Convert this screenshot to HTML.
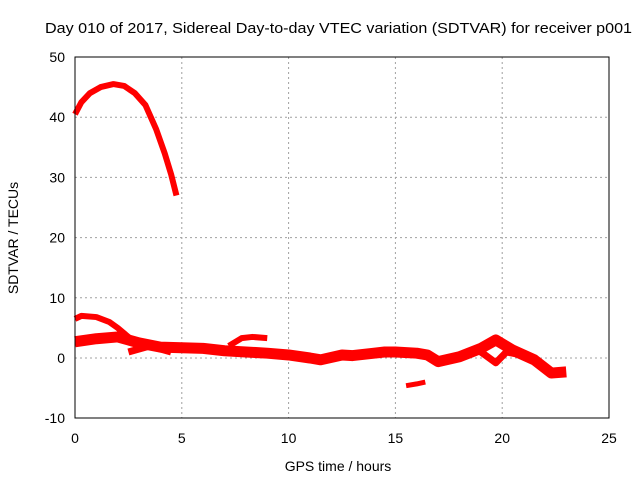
<!DOCTYPE html>
<html><head><meta charset="utf-8"><style>
body{margin:0;background:#fff}
svg text{font-family:"Liberation Sans",sans-serif;font-size:14px;fill:#000}
</style></head><body>
<svg width="640" height="480" id="c">
<rect x="0" y="0" width="640" height="480" fill="#fff"/>
<text x="45" y="33" textLength="587" lengthAdjust="spacingAndGlyphs" style="font-size:15px">Day 010 of 2017, Sidereal Day-to-day VTEC variation (SDTVAR) for receiver p001</text>
<text x="338" y="471" text-anchor="middle">GPS time / hours</text>
<text transform="translate(18,238) rotate(-90)" text-anchor="middle">SDTVAR / TECUs</text>
<g id="grid"></g><g id="marks"></g>
<rect x="75" y="57" width="534" height="361" fill="none" stroke="#000" stroke-width="1"/>
</svg>
<script>
const xTicks=[0,5,10,15,20,25];
const yTicks=[-10,0,10,20,30,40,50];
const arcT=[0,0.3,0.7,1.2,1.8,2.3,2.8,3.3,3.8,4.2,4.5,4.75];
const arcV=[40.5,42.5,44,45,45.5,45.2,44,42,38,34,30.5,27];
const upperT=[0,0.3,1,1.6,2,2.5,3,3.5,4];
const upperV=[6.5,7,6.8,6,5,3.5,2,2,2];
const bandT=[0,1,2,3,4,5,6,7,8,9,10,11,11.5,12.5,13,14,14.5,15,16,16.5,17,18,19,19.7,20.5,21.5,22.3,23];
const bandV=[2.7,3.2,3.5,2.5,1.8,1.7,1.6,1.2,1,0.8,0.5,0,-0.3,0.5,0.4,0.8,1,1,0.8,0.5,-0.6,0.2,1.6,3,1.3,-0.3,-2.5,-2.3];
const loopT=[18.8,19.2,19.7,20.2,20.8,21.3];
const loopV=[1.5,0.5,-0.8,1,0.6,0];
const lowT=[2.5,3,3.5,4,4.5];
const lowV=[1,1.5,2,1.5,1];
const bumpT=[7.2,7.8,8.3,9];
const bumpV=[2,3.3,3.5,3.3];
const dipT=[15.5,16,16.4];
const dipV=[-4.6,-4.3,-4];
const X=t=>75+t*534/25, Y=v=>358-v*6.02;
const ns="http://www.w3.org/2000/svg";
const g=document.getElementById('grid'), m=document.getElementById('marks'), svg=document.getElementById('c');
xTicks.forEach(t=>{
 if(t>0&&t<25){const l=document.createElementNS(ns,'line');l.setAttribute('x1',X(t));l.setAttribute('x2',X(t));l.setAttribute('y1',57);l.setAttribute('y2',418);l.setAttribute('stroke','#a0a0a0');l.setAttribute('stroke-dasharray','2,3');
 
 g.appendChild(l);}
 const tx=document.createElementNS(ns,'text');tx.setAttribute('x',X(t));tx.setAttribute('y',443);tx.setAttribute('text-anchor','middle');tx.textContent=t;
 
 svg.appendChild(tx);
});
yTicks.forEach(v=>{
 if(v>-10&&v<50){const l=document.createElementNS(ns,'line');l.setAttribute('x1',75);l.setAttribute('x2',609);l.setAttribute('y1',Y(v));l.setAttribute('y2',Y(v));l.setAttribute('stroke','#a0a0a0');l.setAttribute('stroke-dasharray','2,3');
 
 g.appendChild(l);}
 const tx=document.createElementNS(ns,'text');tx.setAttribute('x',65);tx.setAttribute('y',Y(v)+5);tx.setAttribute('text-anchor','end');tx.textContent=v;
 
 svg.appendChild(tx);
});
function series(T,V,w,name){
 const p=document.createElementNS(ns,'polyline');
 p.setAttribute('points',T.map((t,i)=>X(t)+','+Y(V[i])).join(' '));
 p.setAttribute('fill','none');p.setAttribute('stroke','#ff0000');p.setAttribute('stroke-width',w);p.setAttribute('stroke-linejoin','round');p.setAttribute('stroke-linecap','butt');
 
 
 m.appendChild(p);
}
series(arcT,arcV,6,'arc-series');
series(upperT,upperV,6,'upper-series');
series(lowT,lowV,7,'low-series');
series(bandT,bandV,11,'band-series');
series(loopT,loopV,7,'loop-series');
series(bumpT,bumpV,6,'bump-series');
series(dipT,dipV,5,'dip-series');
</script>
</body></html>
